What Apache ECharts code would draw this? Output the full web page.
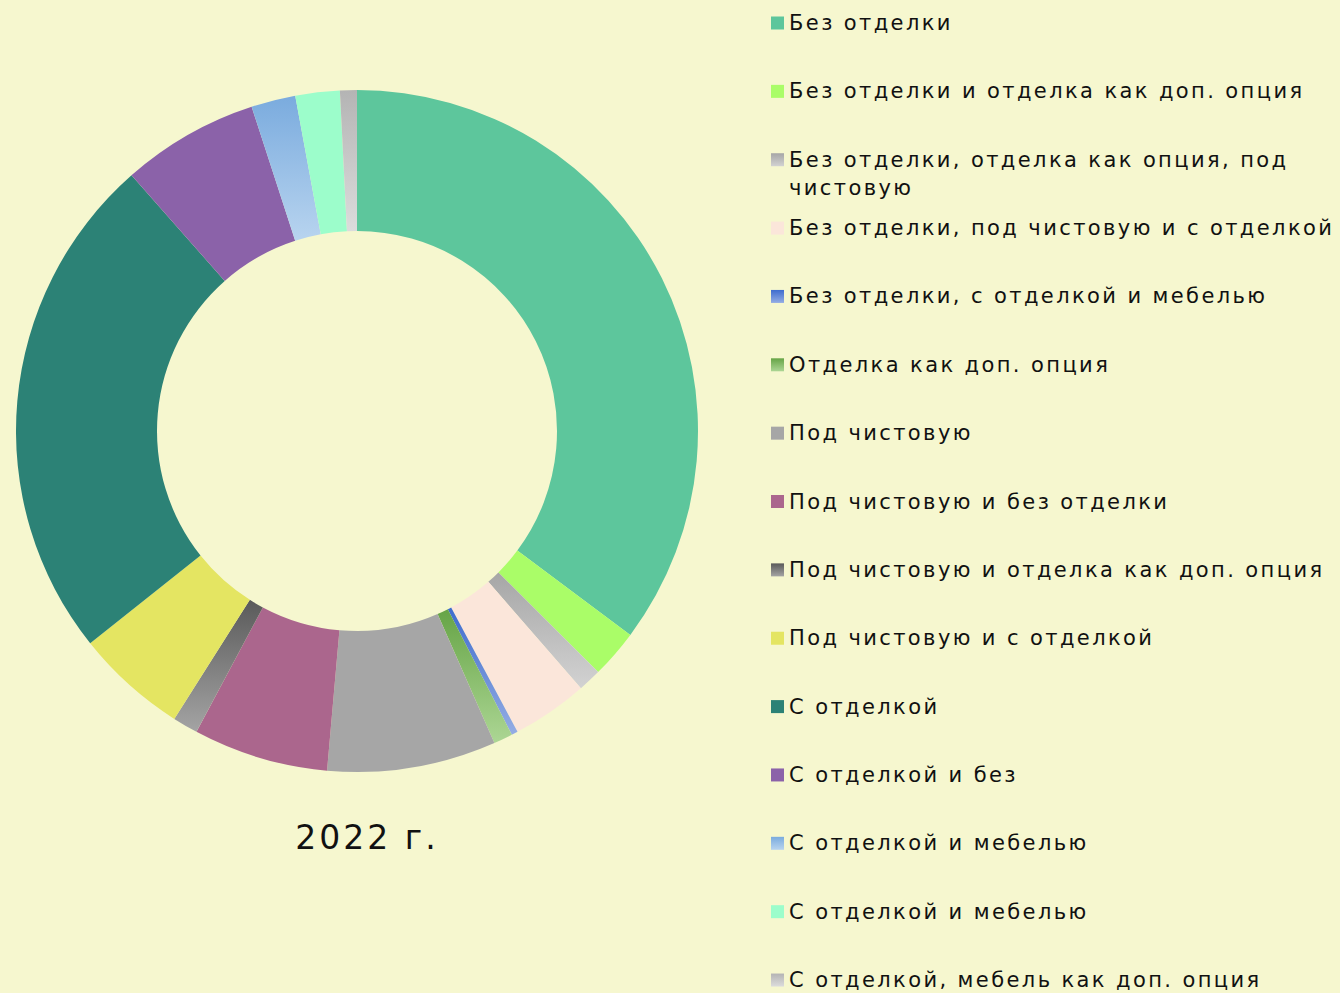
<!DOCTYPE html>
<html>
<head>
<meta charset="utf-8">
<script src="https://cdn.jsdelivr.net/npm/echarts@6/dist/echarts.min.js"></script>
<style>
  html, body { margin: 0; padding: 0; background: #f6f7cf; }
  #chart { width: 1340px; height: 993px; }
  /* the source font is a wide grotesque, so space the letters out a bit */
  #chart text { letter-spacing: 2.4px; }
  #chart text.year { letter-spacing: 3px; }
</style>
</head>
<body>
<div id="chart"></div>
<script>
const categories = [
    "Без отделки",
    "Без отделки и отделка как доп. опция",
    "Без отделки, отделка как опция, под чистовую",
    "Без отделки, под чистовую и с отделкой",
    "Без отделки, с отделкой и мебелью",
    "Отделка как доп. опция",
    "Под чистовую",
    "Под чистовую и без отделки",
    "Под чистовую и отделка как доп. опция",
    "Под чистовую и с отделкой",
    "С отделкой",
    "С отделкой и без",
    "С отделкой и мебелью",
    "С отделкой и мебелью ", // same label twice in the source, the space keeps them apart
    "С отделкой, мебель как доп. опция"
];
const shares2022 = [35.2, 2.3, 1.1, 3.6, 0.3, 0.9, 8.0, 6.4, 1.2, 5.3, 24.2, 6.5, 2.1, 2.1, 0.8];
const yearLabel = "2022 г.";

// plain colour or [top, bottom] of a vertical gradient
const sliceColors = [
    "#5dc69c",
    "#aafd68",
    ["#a6a6a6", "#d2d2d2"],
    "#fbe6da",
    ["#3e6cce", "#94ade4"],
    ["#66a446", "#acd694"],
    "#a6a6a6",
    "#ab668d",
    ["#5a5a5a", "#a4a4a4"],
    "#e4e562",
    "#2c8276",
    "#8b62a9",
    ["#7aabde", "#b8d4ef"],
    "#9cfdcb",
    ["#b4b4b4", "#dcdcdc"]
];

const toFill = c => Array.isArray(c)
    ? new echarts.graphic.LinearGradient(0, 0, 0, 1, [
        { offset: 0, color: c[0] },
        { offset: 1, color: c[1] }
    ])
    : c;

const chart = echarts.init(document.getElementById("chart"), null, { renderer: "svg" });

const fontFamily = "DejaVu Sans";
const rowStep = 68.36;

// one legend per row so a wrapped name does not push the rows below it
const legends = categories.map((name, i) => ({
    orient: "vertical",
    left: 771,
    top: 9 + i * rowStep - (i === 2 ? 28 : 0),
    padding: 0,
    itemWidth: 13,
    itemHeight: 13,
    icon: "rect",
    formatter: n => i === 2 ? "\nБез отделки, отделка как опция, под\nчистовую" : n,
    textStyle: { fontFamily, fontSize: 21, color: "#111", lineHeight: 28 },
    data: [name]
}));

chart.setOption({
    backgroundColor: "#f6f7cf",
    animation: false,
    title: {
        text: yearLabel,
        left: 367,
        top: 817,
        textAlign: "center",
        padding: 0,
        textStyle: { fontFamily, fontSize: 33, fontWeight: "normal", color: "#111", lineHeight: 40 }
    },
    legend: legends,
    series: [{
        type: "pie",
        center: [357, 431],
        radius: [200, 341],
        startAngle: 90,
        clockwise: true,
        avoidLabelOverlap: false,
        label: { show: false },
        labelLine: { show: false },
        data: categories.map((name, i) => ({
            name,
            value: shares2022[i],
            itemStyle: { color: toFill(sliceColors[i]) }
        }))
    }]
});

// tag the year caption so it gets its own spacing
document.querySelectorAll("#chart text").forEach(t => {
    if (t.textContent.trim() === yearLabel) t.classList.add("year");
});
</script>
</body>
</html>
